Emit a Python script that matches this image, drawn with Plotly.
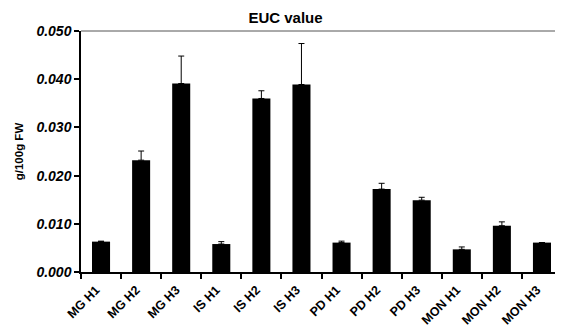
import plotly.graph_objects as go

categories = ["MG H1", "MG H2", "MG H3", "IS H1", "IS H2", "IS H3",
              "PD H1", "PD H2", "PD H3", "MON H1", "MON H2", "MON H3"]
values = [0.0063, 0.0232, 0.0391, 0.0058, 0.0360, 0.0389,
          0.0061, 0.0172, 0.0149, 0.0047, 0.0096, 0.0061]
errors = [0.0001, 0.0019, 0.0057, 0.0005, 0.0016, 0.0085,
          0.0003, 0.0012, 0.0006, 0.0005, 0.0008, 0.0]
y_ticks = [0.0, 0.01, 0.02, 0.03, 0.04, 0.05]
y_tick_labels = ["0.000", "0.010", "0.020", "0.030", "0.040", "0.050"]

FONT = "Liberation Sans, Arial, sans-serif"

fig = go.Figure(go.Bar(
    x=categories, y=values,
    marker=dict(color="black", line=dict(width=0)),
    error_y=dict(type="data", array=errors, arrayminus=[0] * len(errors),
                 symmetric=False, color="black", thickness=1, width=3),
))

# the page body adds an 8px offset, so the figure is 8px smaller
fig.update_layout(
    template="none",
    width=555, height=322,
    margin=dict(l=73, r=1, t=23, b=58, autoexpand=False),
    paper_bgcolor="white", plot_bgcolor="white",
    bargap=0.55,
    showlegend=False,
    title=dict(text="<b>EUC value</b>", x=0.5, xref="container", xanchor="center",
               y=1 - 9.5 / 322, yanchor="middle", yref="container",
               font=dict(family=FONT, size=15, color="black")),
    font=dict(family=FONT, color="black"),
)

fig.update_xaxes(
    type="category", showline=True, linecolor="black", linewidth=1.5,
    ticks="outside", tickson="boundaries", ticklen=5, tickwidth=1.5, tickcolor="black",
    tickangle=-45, tickfont=dict(family=FONT, size=12.5, color="black"),
    ticklabelstandoff=4, ticklabelshift=-5,
    showgrid=False, zeroline=False, automargin=False,
    ticktext=["<b>%s</b>" % c for c in categories], tickvals=categories,
)

fig.update_yaxes(
    range=[0, 0.05], showline=True, linecolor="black", linewidth=1.5,
    ticks="outside", ticklen=5, tickwidth=1.5, tickcolor="black",
    tickvals=y_ticks, ticktext=["<b><i>%s</i></b>" % t for t in y_tick_labels],
    tickfont=dict(family=FONT, size=14, color="black"),
    showgrid=False, zeroline=False, automargin=False,
    title=dict(text="<b>g/100g FW</b>", font=dict(family=FONT, size=11.5, color="black"),
               standoff=10),
)

fig.add_shape(type="line", xref="paper", yref="paper", x0=0, x1=1, y0=1, y1=1,
              line=dict(color="#555555", width=1))
fig.add_shape(type="line", xref="paper", yref="paper", x0=1, x1=1, y0=0, y1=1,
              line=dict(color="#bbbbbb", width=1, dash="dot"))

fig.write_html("out.html")
